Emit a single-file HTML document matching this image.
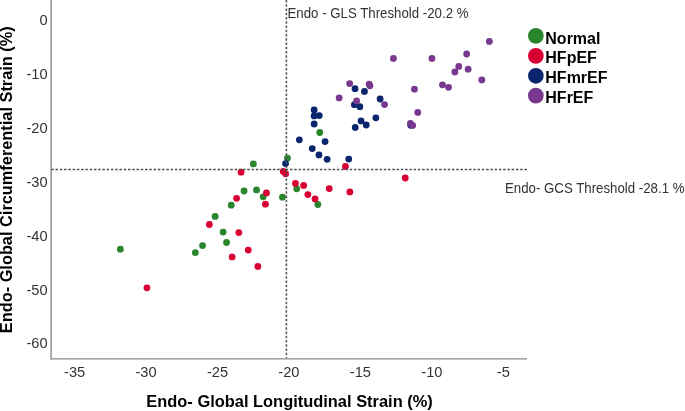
<!DOCTYPE html>
<html><head><meta charset="utf-8"><style>
html,body{margin:0;padding:0;background:#fff;}
svg{display:block;will-change:transform;}
text{font-family:"Liberation Sans",sans-serif;}
.tk{font-size:14.67px;fill:#333;}
.tt{font-size:16px;font-weight:bold;fill:#000;}
.lg{font-size:16px;font-weight:bold;fill:#000;}
.ref{font-size:14.67px;fill:#333;}
</style></head><body>
<svg width="685" height="411" viewBox="0 0 685 411">
<rect x="0" y="0" width="685" height="411" fill="#fff"/>
<g>
<circle cx="120.35" cy="249.2" r="3.4" fill="#2a862c"/>
<circle cx="195.35" cy="252.7" r="3.4" fill="#2a862c"/>
<circle cx="202.55" cy="245.6" r="3.4" fill="#2a862c"/>
<circle cx="215.15" cy="216.4" r="3.4" fill="#2a862c"/>
<circle cx="223.15" cy="232.1" r="3.4" fill="#2a862c"/>
<circle cx="226.55" cy="242.5" r="3.4" fill="#2a862c"/>
<circle cx="231.25" cy="205.2" r="3.4" fill="#2a862c"/>
<circle cx="244.05" cy="191.0" r="3.4" fill="#2a862c"/>
<circle cx="253.35" cy="163.9" r="3.4" fill="#2a862c"/>
<circle cx="256.55" cy="189.9" r="3.4" fill="#2a862c"/>
<circle cx="263.15" cy="196.8" r="3.4" fill="#2a862c"/>
<circle cx="282.45" cy="197.2" r="3.4" fill="#2a862c"/>
<circle cx="287.45" cy="158.2" r="3.4" fill="#2a862c"/>
<circle cx="296.75" cy="188.8" r="3.4" fill="#2a862c"/>
<circle cx="317.85" cy="204.5" r="3.4" fill="#2a862c"/>
<circle cx="319.75" cy="132.5" r="3.4" fill="#2a862c"/>
<circle cx="146.95" cy="287.8" r="3.4" fill="#d80032"/>
<circle cx="209.35" cy="224.5" r="3.4" fill="#d80032"/>
<circle cx="232.15" cy="256.9" r="3.4" fill="#d80032"/>
<circle cx="236.55" cy="198.3" r="3.4" fill="#d80032"/>
<circle cx="238.85" cy="232.6" r="3.4" fill="#d80032"/>
<circle cx="241.05" cy="172.2" r="3.4" fill="#d80032"/>
<circle cx="248.25" cy="250.1" r="3.4" fill="#d80032"/>
<circle cx="257.85" cy="266.4" r="3.4" fill="#d80032"/>
<circle cx="265.45" cy="204.2" r="3.4" fill="#d80032"/>
<circle cx="266.45" cy="192.9" r="3.4" fill="#d80032"/>
<circle cx="283.25" cy="171.4" r="3.4" fill="#d80032"/>
<circle cx="285.65" cy="173.8" r="3.4" fill="#d80032"/>
<circle cx="295.45" cy="183.4" r="3.4" fill="#d80032"/>
<circle cx="303.65" cy="185.4" r="3.4" fill="#d80032"/>
<circle cx="307.85" cy="194.6" r="3.4" fill="#d80032"/>
<circle cx="315.05" cy="198.9" r="3.4" fill="#d80032"/>
<circle cx="329.25" cy="188.6" r="3.4" fill="#d80032"/>
<circle cx="345.45" cy="166.5" r="3.4" fill="#d80032"/>
<circle cx="349.85" cy="191.9" r="3.4" fill="#d80032"/>
<circle cx="405.25" cy="178.0" r="3.4" fill="#d80032"/>
<circle cx="285.55" cy="163.6" r="3.4" fill="#0a246e"/>
<circle cx="299.35" cy="139.8" r="3.4" fill="#0a246e"/>
<circle cx="312.25" cy="148.6" r="3.4" fill="#0a246e"/>
<circle cx="314.15" cy="109.9" r="3.4" fill="#0a246e"/>
<circle cx="314.15" cy="115.9" r="3.4" fill="#0a246e"/>
<circle cx="314.15" cy="124.0" r="3.4" fill="#0a246e"/>
<circle cx="318.95" cy="154.9" r="3.4" fill="#0a246e"/>
<circle cx="319.25" cy="115.6" r="3.4" fill="#0a246e"/>
<circle cx="325.05" cy="141.6" r="3.4" fill="#0a246e"/>
<circle cx="327.15" cy="159.3" r="3.4" fill="#0a246e"/>
<circle cx="348.75" cy="159.1" r="3.4" fill="#0a246e"/>
<circle cx="354.35" cy="104.7" r="3.4" fill="#0a246e"/>
<circle cx="355.05" cy="88.7" r="3.4" fill="#0a246e"/>
<circle cx="355.25" cy="127.4" r="3.4" fill="#0a246e"/>
<circle cx="359.85" cy="106.7" r="3.4" fill="#0a246e"/>
<circle cx="361.05" cy="120.9" r="3.4" fill="#0a246e"/>
<circle cx="364.45" cy="91.4" r="3.4" fill="#0a246e"/>
<circle cx="366.25" cy="125.0" r="3.4" fill="#0a246e"/>
<circle cx="375.85" cy="117.8" r="3.4" fill="#0a246e"/>
<circle cx="380.15" cy="99.0" r="3.4" fill="#0a246e"/>
<circle cx="410.75" cy="125.3" r="3.4" fill="#0a246e"/>
<circle cx="339.15" cy="97.9" r="3.4" fill="#77388e"/>
<circle cx="349.65" cy="83.6" r="3.4" fill="#77388e"/>
<circle cx="356.65" cy="100.9" r="3.4" fill="#77388e"/>
<circle cx="369.15" cy="84.1" r="3.4" fill="#77388e"/>
<circle cx="369.95" cy="85.8" r="3.4" fill="#77388e"/>
<circle cx="384.55" cy="104.6" r="3.4" fill="#77388e"/>
<circle cx="393.45" cy="58.4" r="3.4" fill="#77388e"/>
<circle cx="410.45" cy="123.4" r="3.4" fill="#77388e"/>
<circle cx="412.65" cy="125.4" r="3.4" fill="#77388e"/>
<circle cx="414.45" cy="89.2" r="3.4" fill="#77388e"/>
<circle cx="417.75" cy="112.4" r="3.4" fill="#77388e"/>
<circle cx="431.95" cy="58.4" r="3.4" fill="#77388e"/>
<circle cx="442.45" cy="84.8" r="3.4" fill="#77388e"/>
<circle cx="448.55" cy="87.3" r="3.4" fill="#77388e"/>
<circle cx="454.85" cy="72.0" r="3.4" fill="#77388e"/>
<circle cx="458.75" cy="66.4" r="3.4" fill="#77388e"/>
<circle cx="466.65" cy="54.0" r="3.4" fill="#77388e"/>
<circle cx="468.15" cy="69.2" r="3.4" fill="#77388e"/>
<circle cx="481.85" cy="79.9" r="3.4" fill="#77388e"/>
<circle cx="489.35" cy="41.4" r="3.4" fill="#77388e"/>
</g>
<rect x="50" y="0" width="1" height="360" fill="#b9b9b9"/>
<rect x="51" y="0" width="1" height="360" fill="#a2a2a2"/>
<rect x="52" y="358" width="475" height="1" fill="#a4a4a4"/>
<rect x="52" y="359" width="475" height="1" fill="#c6c6c6"/>
<line x1="51.25" y1="169.5" x2="527" y2="169.5" stroke="#505050" stroke-width="1.5" stroke-dasharray="2.5 1.763"/>
<line x1="286.4" y1="0" x2="286.4" y2="358" stroke="#505050" stroke-width="1.5" stroke-dasharray="2.5 1.75"/>
<g class="tk">
<text x="47.6" y="24.9" text-anchor="end">0</text>
<text x="47.6" y="78.8" text-anchor="end">-10</text>
<text x="47.6" y="132.7" text-anchor="end">-20</text>
<text x="47.6" y="186.7" text-anchor="end">-30</text>
<text x="47.6" y="240.6" text-anchor="end">-40</text>
<text x="47.6" y="294.5" text-anchor="end">-50</text>
<text x="47.6" y="348.4" text-anchor="end">-60</text>
<text x="74.6" y="377" text-anchor="middle">-35</text>
<text x="146.0" y="377" text-anchor="middle">-30</text>
<text x="217.5" y="377" text-anchor="middle">-25</text>
<text x="288.9" y="377" text-anchor="middle">-20</text>
<text x="360.4" y="377" text-anchor="middle">-15</text>
<text x="431.9" y="377" text-anchor="middle">-10</text>
<text x="503.3" y="377" text-anchor="middle">-5</text>
</g>
<text class="ref" x="287.5" y="18.2" textLength="181" lengthAdjust="spacingAndGlyphs">Endo - GLS Threshold -20.2 %</text>
<text class="ref" x="505.0" y="192.6" textLength="179.5" lengthAdjust="spacingAndGlyphs">Endo- GCS Threshold -28.1 %</text>
<text class="tt" x="146.3" y="406.6" textLength="286.5" lengthAdjust="spacingAndGlyphs">Endo- Global Longitudinal Strain (%)</text>
<text class="tt" transform="translate(12.2,333.2) rotate(-90)" x="0" y="0" textLength="307" lengthAdjust="spacingAndGlyphs">Endo- Global Circumferential Strain (%)</text>
<circle cx="535.85" cy="35.9" r="7.85" fill="#2a862c"/>
<circle cx="535.85" cy="55.9" r="7.85" fill="#d80032"/>
<circle cx="535.85" cy="75.8" r="7.85" fill="#0a246e"/>
<circle cx="535.85" cy="95.6" r="7.85" fill="#77388e"/>
<g class="lg">
<text x="545.3" y="43.5">Normal</text>
<text x="545.3" y="63.2">HFpEF</text>
<text x="545.3" y="82.9">HFmrEF</text>
<text x="545.3" y="102.6">HFrEF</text>
</g>
</svg>
</body></html>
